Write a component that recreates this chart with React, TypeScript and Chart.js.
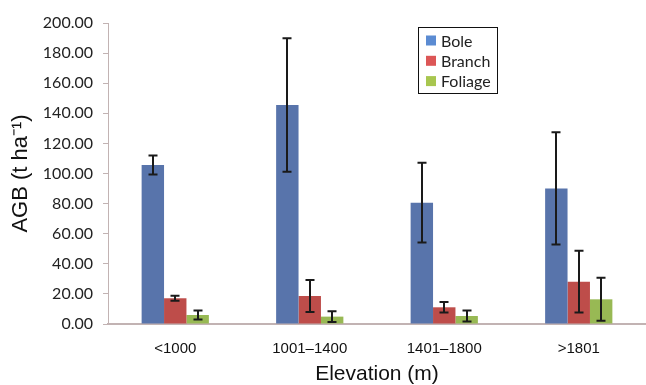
import React, { useEffect, useRef } from "react";
import { Chart, registerables } from "chart.js";

Chart.register(...registerables);

const categories = ["<1000", "1001–1400", "1401–1800", ">1801"];
const seriesNames = ["Bole", "Branch", "Foliage"];
const boleValues = [105.6, 145.5, 80.6, 90.1];
const boleErrors = [6.3, 44.3, 26.5, 37.3];
const branchValues = [17.1, 18.6, 11.1, 28.1];
const branchErrors = [1.6, 10.7, 3.5, 20.5];
const foliageValues = [6.0, 4.9, 5.3, 16.4];
const foliageErrors = [3.0, 3.5, 3.6, 14.3];
const yMin = 0;
const yMax = 200;
const yStep = 20;

const barColors = ["#5874AB", "#BE4D4A", "#98B954"];
const legendColors = ["#5B8BD2", "#DC5656", "#A8C64F"];
const axisColor = "#C2B3B3";

const errorBarPlugin = {
  id: "errorBars",
  afterDatasetsDraw(chart: any) {
    const ctx = chart.ctx;
    const yScale = chart.scales.y;
    ctx.save();
    ctx.strokeStyle = "#1a1a1a";
    ctx.lineWidth = 2;
    chart.data.datasets.forEach((ds: any, i: number) => {
      const meta = chart.getDatasetMeta(i);
      meta.data.forEach((el: any, j: number) => {
        const v = ds.data[j];
        const e = ds.errors[j];
        const x = Math.round(el.x);
        const yTop = yScale.getPixelForValue(v + e);
        const yBot = yScale.getPixelForValue(Math.max(v - e, 0));
        const cap = 4.5;
        ctx.beginPath();
        ctx.moveTo(x, yTop);
        ctx.lineTo(x, yBot);
        ctx.moveTo(x - cap, yTop);
        ctx.lineTo(x + cap, yTop);
        ctx.moveTo(x - cap, yBot);
        ctx.lineTo(x + cap, yBot);
        ctx.stroke();
      });
    });
    ctx.restore();
  },
};

const legendPlugin = {
  id: "boxLegend",
  afterDraw(chart: any) {
    const ctx = chart.ctx;
    ctx.save();
    const bx = 418.5, by = 27.5, bw = 79, bh = 66;
    ctx.fillStyle = "#ffffff";
    ctx.fillRect(bx, by, bw, bh);
    ctx.strokeStyle = "#111";
    ctx.lineWidth = 1;
    ctx.strokeRect(bx, by, bw, bh);
    ctx.font = "16px Lato, 'Liberation Sans', sans-serif";
    ctx.textBaseline = "middle";
    ctx.textAlign = "left";
    chart.data.datasets.forEach((ds: any, i: number) => {
      const cy = 40.5 + i * 20.3;
      ctx.fillStyle = legendColors[i];
      ctx.fillRect(426, cy - 5, 10, 10);
      ctx.fillStyle = "#222";
      ctx.fillText(ds.label, 441, cy + 1);
    });
    ctx.restore();
  },
};

export default function App() {
  const canvasRef = useRef<HTMLCanvasElement | null>(null);

  useEffect(() => {
    document.body.style.margin = "0";
    const canvas = canvasRef.current;
    if (!canvas) return;
    const values = [boleValues, branchValues, foliageValues];
    const errors = [boleErrors, branchErrors, foliageErrors];
    const chart = new Chart(canvas, {
      type: "bar",
      data: {
        labels: categories,
        datasets: seriesNames.map((name, i) => ({
          label: name,
          data: values[i],
          errors: errors[i],
          backgroundColor: barColors[i],
          borderWidth: 0,
          categoryPercentage: 0.5,
          barPercentage: 1.0,
        })) as any,
      },
      options: {
        animation: false,
        responsive: false,
        devicePixelRatio: 1,
        layout: { padding: { top: 23, right: 0, left: 0, bottom: 0 } },
        plugins: {
          legend: { display: false },
          tooltip: { enabled: false },
        },
        scales: {
          x: {
            grid: { display: false, drawTicks: false },
            border: { display: true, color: axisColor, width: 2 },
            ticks: {
              color: "#111",
              padding: 16,
              font: { family: "'Liberation Sans', Arial, sans-serif", size: 15 },
            },
            title: {
              display: true,
              text: "Elevation (m)",
              color: "#111",
              font: { family: "'Liberation Sans', Arial, sans-serif", size: 21, lineHeight: 1.0 },
              padding: { top: 0, bottom: 0 },
            },
            afterFit(scale: any) {
              scale.height = 61;
            },
          },
          y: {
            min: yMin,
            max: yMax,
            grid: {
              drawOnChartArea: false,
              drawTicks: true,
              tickLength: 5,
              color: axisColor,
            },
            border: { display: true, color: axisColor, width: 1 },
            ticks: {
              stepSize: yStep,
              padding: 10,
              color: "#222",
              font: { family: "Lato, 'Liberation Sans', sans-serif", size: 16 },
              callback: (v: any) => Number(v).toFixed(2),
            },
            title: {
              display: true,
              text: "AGB (t ha⁻¹)",
              color: "#111",
              font: { family: "'Liberation Sans', Arial, sans-serif", size: 22 },
              padding: { top: 8, bottom: 0 },
            },
            afterFit(scale: any) {
              scale.width = 108;
            },
          },
        },
      } as any,
      plugins: [errorBarPlugin, legendPlugin],
    });
    return () => chart.destroy();
  }, []);

  return (
    <div style={{ width: 646, height: 385, background: "#fff" }}>
      <canvas ref={canvasRef} width={646} height={385} style={{ display: "block" }} />
    </div>
  );
}
